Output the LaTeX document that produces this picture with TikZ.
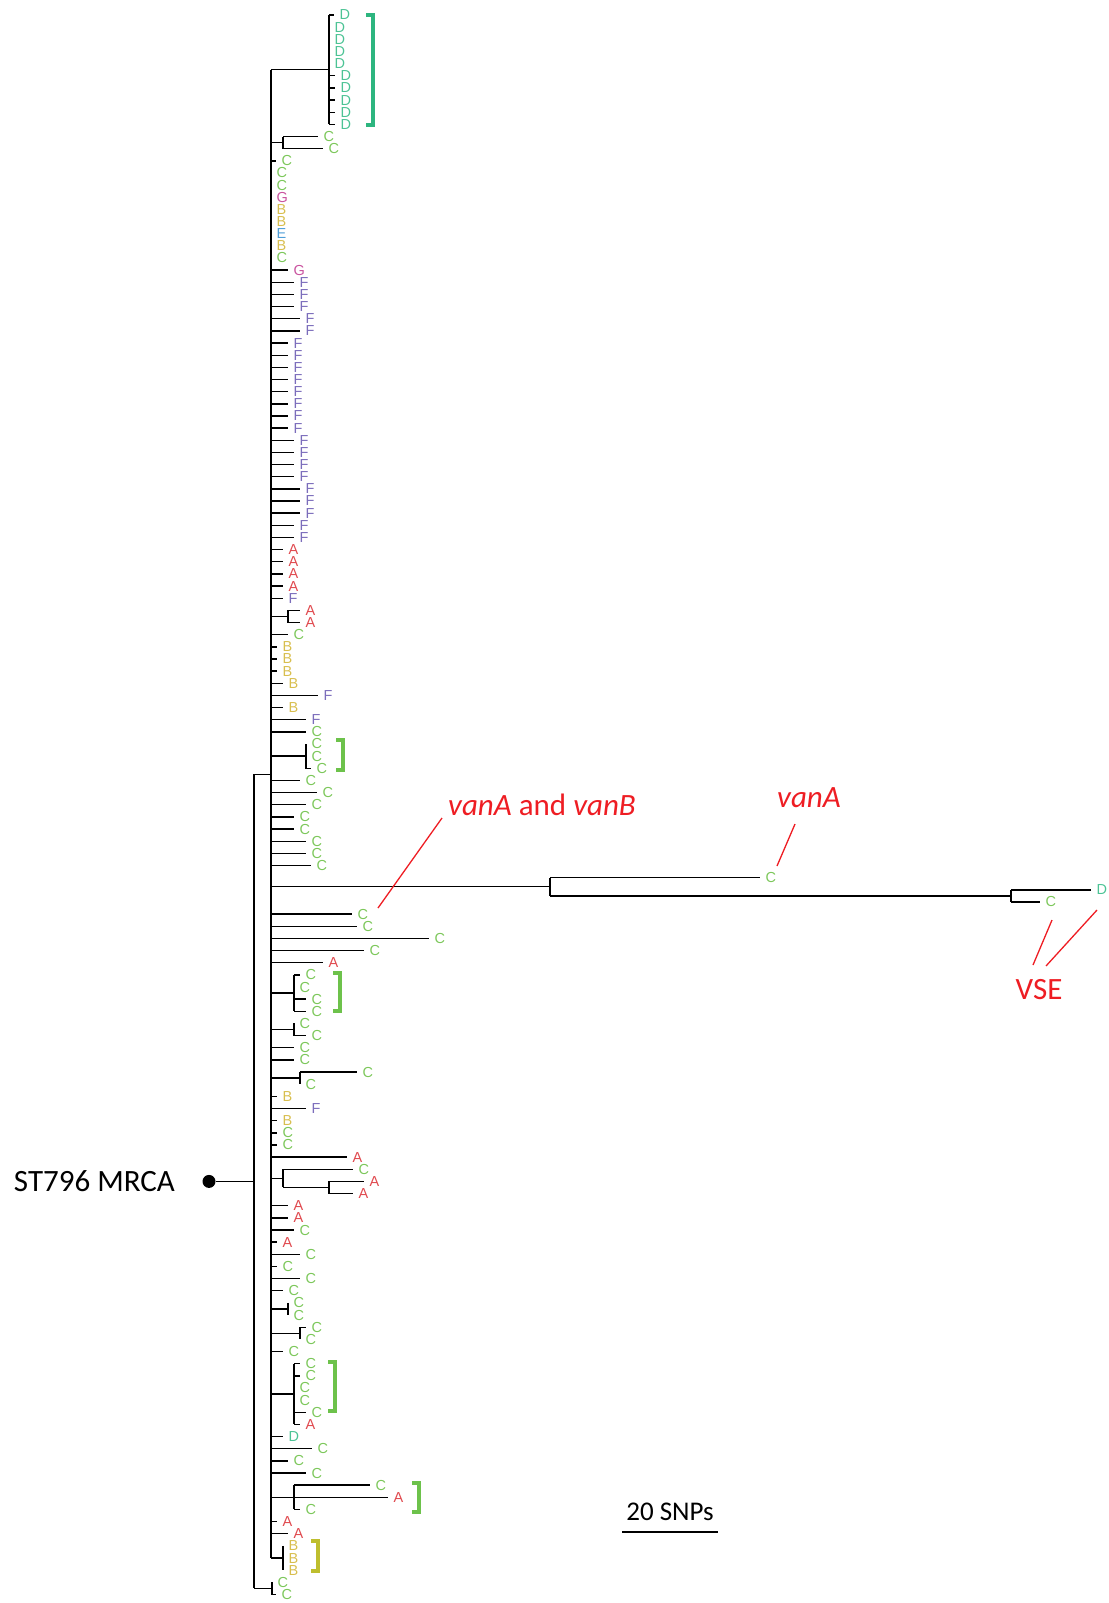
\documentclass[tikz,border=0pt]{standalone}
\usepackage{fontspec}
\setmainfont{Liberation Sans}
\newfontfamily\calfont{Carlito}
\definecolor{cA}{HTML}{E04A4F}
\definecolor{cB}{HTML}{D8BE4E}
\definecolor{cC}{HTML}{7CC75A}
\definecolor{cD}{HTML}{4CC395}
\definecolor{cE}{HTML}{4F9ED8}
\definecolor{cF}{HTML}{7B6DBB}
\definecolor{cG}{HTML}{C9539F}
\definecolor{bD}{HTML}{2DB57F}
\definecolor{bC}{HTML}{6DC24B}
\definecolor{bB}{HTML}{BEBE2E}
\definecolor{annred}{HTML}{EE1D23}
\newcommand\ry[1]{15+12.15*(#1)}
\newcommand\brk[4]{\draw[line width=4pt,#4] ({#1-7},#2) -- (#1,#2) -- (#1,#3) -- ({#1-7},#3);}
\begin{document}
\begin{tikzpicture}[x=1pt,y=-1pt,
  lab/.style={anchor=west,inner xsep=5.5pt,inner ysep=0pt,font=\fontsize{14.5}{15}\selectfont},
  br/.style={line width=1.4pt,black},
  bbl/.style={line width=2.6pt,black},
  ann/.style={text=annred,font=\calfont\fontsize{31}{33}\selectfont,inner sep=0pt},
  redl/.style={draw=annred,line width=1.3pt}]
\useasboundingbox (0,0) rectangle (1108,1603);

% leaves
\foreach \r/\x/\k in {0/334/D,1/329/D,2/329/D,3/329/D,4/329/D,5/335/D,6/335/D,7/335/D,8/335/D,9/335/D,
10/318/C,11/323/C,12/276/C,13/271/C,14/271/C,15/271/G,16/271/B,17/271/B,18/271/E,19/271/B,20/271/C,
21/288/G,22/294/F,23/294/F,24/294/F,25/300/F,26/300/F,27/288/F,28/288/F,29/288/F,30/288/F,31/288/F,32/288/F,33/288/F,34/288/F,
35/294/F,36/294/F,37/294/F,38/294/F,39/300/F,40/300/F,41/300/F,42/294/F,43/294/F,
44/283/A,45/283/A,46/283/A,47/283/A,48/283/F,49/300/A,50/300/A,51/288/C,
52/277/B,53/277/B,54/277/B,55/283/B,56/318/F,57/283/B,58/306/F,59/306/C,
60/306/C,61/306/C,62/311/C,63/300/C,64/317/C,65/306/C,66/294/C,67/294/C,68/306/C,69/306/C,70/311/C,
71/760/C,72/1091/D,73/1040/C,
74/352/C,75/357/C,76/429/C,77/364/C,78/323/A,
79/300/C,80/294/C,81/306/C,82/306/C,83/294/C,84/306/C,85/294/C,86/294/C,87/357/C,88/300/C,
89/277/B,90/306/F,91/277/B,92/277/C,93/277/C,94/347/A,95/353/C,96/364/A,97/353/A,98/288/A,99/288/A,
100/294/C,101/277/A,102/300/C,103/277/C,104/300/C,105/283/C,106/288/C,107/288/C,108/306/C,109/300/C,110/283/C,
111/300/C,112/300/C,113/294/C,114/294/C,115/306/C,116/300/A,117/283/D,118/312/C,119/288/C,120/306/C,
121/370/C,122/388/A,123/300/C,124/277/A,125/288/A,126/283/B,127/283/B,128/283/B,129/272/C,130/276/C}
{\node[lab,text=c\k] (l\r) at (\x,{\ry{\r}}) {\k};}

% backbone and outer
\coordinate (bb) at (271,0);
\coordinate (out) at (254,{\ry{62.5}});
% internal nodes
\coordinate (nD) at (329,{\ry{4.5}});
\coordinate (n10) at (283,{\ry{10.5}});
\coordinate (n49) at (288,{\ry{49.5}});
\coordinate (n60) at (306,{\ry{61}});
\coordinate (nV) at (1011,{\ry{72.5}});
\coordinate (nL) at (550,{\ry{71.75}});
\coordinate (n79) at (294,{\ry{80.5}});
\coordinate (n83) at (294,{\ry{83.5}});
\coordinate (n87) at (300,{\ry{87.5}});
\coordinate (n96) at (329,{\ry{96.5}});
\coordinate (n95) at (283,{\ry{95.75}});
\coordinate (n106) at (288,{\ry{106.5}});
\coordinate (n108) at (300,{\ry{108.5}});
\coordinate (n111) at (294,{\ry{113.5}});
\coordinate (n121) at (294,{\ry{122}});
\coordinate (n126) at (283,{\ry{127}});
\coordinate (nB) at (272,{\ry{129.5}});

\draw[bbl] (bb |- nD) -- (bb |- n126);
\draw[br] (out) -- (out |- nB);
\draw[br] (out) -- (bb |- out);
\draw[br] (out |- nB) -- (nB);

% direct leaves of backbone
\foreach \r in {12,21,22,23,24,25,26,27,28,29,30,31,32,33,34,35,36,37,38,39,40,41,42,43,44,45,46,47,48,
51,52,53,54,55,56,57,58,59,63,64,65,66,67,68,69,70,74,75,76,77,78,85,86,89,90,91,92,93,94,
98,99,100,101,102,103,104,105,110,117,118,119,120,124,125}
{\draw[br] (bb |- l\r.west) -- (l\r.west);}

% clades: stems
\foreach \n in {nD,n10,n49,n60,nL,n79,n83,n87,n95,n106,n108,n111,n121,n126}
{\draw[br] (bb |- \n) -- (\n);}

% clade verticals
\draw[br] (nD |- l0.west) -- (nD |- l9.west);
\foreach \r in {0,5,6,7,8,9} {\draw[br] (nD |- l\r.west) -- (l\r.west);}
\draw[br] (n10 |- l10.west) -- (n10 |- l11.west);
\foreach \r in {10,11} {\draw[br] (n10 |- l\r.west) -- (l\r.west);}
\draw[br] (n49 |- l49.west) -- (n49 |- l50.west);
\foreach \r in {49,50} {\draw[br] (n49 |- l\r.west) -- (l\r.west);}
\draw[br] (n60 |- l60.west) -- (n60 |- l62.west) -- (l62.west);
\draw[br] (nL |- l71.west) -- (nL |- nV);
\draw[br] (nL |- l71.west) -- (l71.west);
\draw[br] (nL |- nV) -- (nV);
\draw[br] (nV |- l72.west) -- (nV |- l73.west);
\foreach \r in {72,73} {\draw[br] (nV |- l\r.west) -- (l\r.west);}
\draw[br] (n79 |- l79.west) -- (n79 |- l82.west);
\foreach \r in {79,81,82} {\draw[br] (n79 |- l\r.west) -- (l\r.west);}
\draw[br] (n83 |- l83.west) -- (n83 |- l84.west) -- (l84.west);
\draw[br] (n87 |- l87.west) -- (n87 |- l88.west);
\draw[br] (n87 |- l87.west) -- (l87.west);
\draw[br] (n95 |- l95.west) -- (n95 |- n96);
\draw[br] (n95 |- l95.west) -- (l95.west);
\draw[br] (n95 |- n96) -- (n96);
\draw[br] (n96 |- l96.west) -- (n96 |- l97.west);
\foreach \r in {96,97} {\draw[br] (n96 |- l\r.west) -- (l\r.west);}
\draw[br] (n106 |- l106.west) -- (n106 |- l107.west);
\draw[br] (n108 |- l108.west) -- (n108 |- l109.west);
\draw[br] (n108 |- l108.west) -- (l108.west);
\draw[br] (n111 |- l111.west) -- (n111 |- l116.west);
\foreach \r in {111,112,115,116} {\draw[br] (n111 |- l\r.west) -- (l\r.west);}
\draw[br] (n121 |- l121.west) -- (n121 |- l123.west);
\foreach \r in {121,122,123} {\draw[br] (n121 |- l\r.west) -- (l\r.west);}
\draw[br] (n126 |- l126.west) -- (n126 |- l128.west);
\draw[br] (nB |- l129.west) -- (nB |- l130.west);
\draw[br] (nB |- l130.west) -- (l130.west);

% brackets
\brk{373}{15}{125}{bD}
\brk{343}{740}{770}{bC}
\brk{340}{973}{1011}{bC}
\brk{335}{1362}{1411}{bC}
\brk{419}{1483}{1512}{bC}
\brk{318}{1541}{1571}{bB}

% root
\node[circle,fill=black,inner sep=0pt,minimum size=13pt] (root) at (209,{\ry{96}}) {};
\draw[br] (root) -- (out |- root);
\node[anchor=east,inner sep=0pt,font=\calfont\fontsize{31}{33}\selectfont] (mrca) at (175,{\ry{96}}) {ST796 MRCA};

% annotations
\node[ann] (tvab) at (542,805) {\textit{vanA} and \textit{vanB}};
\coordinate (vab1) at (442,818);
\coordinate (vab2) at (378,908);
\draw[redl] (vab1) -- (vab2);
\node[ann] (tva) at (809,798) {\textit{vanA}};
\coordinate (va1) at (795,824);
\coordinate (va2) at (777,866);
\draw[redl] (va1) -- (va2);
\node[ann] (tvse) at (1039,990) {VSE};
\coordinate (vs1) at (1052,920);
\coordinate (vs2) at (1033,965);
\coordinate (vs3) at (1097,910);
\coordinate (vs4) at (1046,966);
\draw[redl] (vs1) -- (vs2);
\draw[redl] (vs3) -- (vs4);

% scale bar
\node[inner sep=0pt,font=\calfont\fontsize{27}{29}\selectfont] (sb) at (670,1512) {20 SNPs};
\coordinate (sbl) at (622,1532);
\coordinate (sbr) at (718,1532);
\draw[line width=1.3pt] (sbl) -- (sbr);
\end{tikzpicture}
\end{document}
